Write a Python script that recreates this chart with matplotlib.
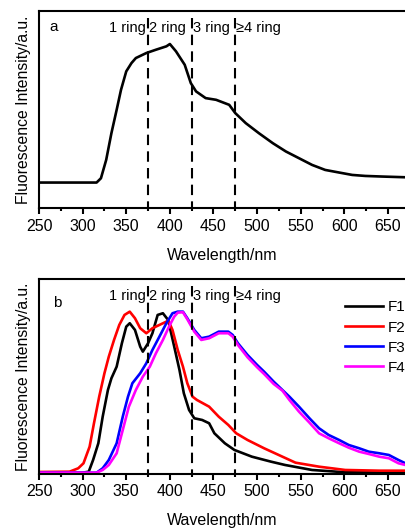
import matplotlib
matplotlib.use("Agg")
import matplotlib.pyplot as plt
import numpy as np

plt.rcParams['font.family'] = ['Liberation Sans', 'DejaVu Sans']

# Panel a: whole sample spectrum
wl_a = [250, 316, 321, 327, 333, 339, 344, 350, 356, 361, 373, 384, 396, 400,
        407, 417, 424, 430, 441, 453, 468, 475, 487, 502, 518, 533, 548, 563,
        578, 594, 609, 624, 643, 669]
int_a = [25.7, 25.7, 30, 48.3, 75, 98.3, 118.3, 136.7, 145, 150, 155, 158.3,
         161.7, 164, 156.7, 143.3, 125, 116.7, 110, 108.3, 103.3, 95, 85, 75,
         65, 56.7, 50, 43.3, 38.3, 35.7, 33.3, 32.3, 31.7, 31]

# Panel b: fractions F1-F4
wl_f1 = [250, 300, 307, 312, 318, 323, 329, 333, 339, 345, 350, 354, 360, 366,
         369, 375, 380, 386, 392, 398, 405, 411, 416, 422, 428, 437, 445, 451,
         463, 474, 494, 516, 532, 563, 601, 670]
f1 = [1.3, 1.3, 2.3, 14, 30.7, 57.3, 84, 95.7, 107.3, 130.7, 147.3, 150.7, 144,
      127.3, 122.3, 130.7, 140.7, 159, 160.7, 154, 127.3, 104, 80.7, 64, 55.7,
      54, 50.7, 40.7, 30.7, 24, 17.3, 12.3, 9, 4, 1.7, 1.3]

wl_f2 = [250, 285, 295, 301, 308, 313, 319, 325, 330, 336, 342, 348, 354, 360,
         366, 373, 380, 388, 396, 398, 403, 409, 415, 420, 426, 431, 445, 456,
         467, 476, 489, 508, 529, 544, 571, 601, 640, 670]
f2 = [2, 2.3, 5.7, 10.7, 27.3, 50.7, 77.3, 100.7, 117.3, 134, 149, 159, 162.3,
      155.7, 145.7, 140.7, 145.7, 149, 152.3, 154, 144, 124, 107.3, 90.7, 77.3,
      74, 67.3, 57.3, 49, 40.7, 34, 25.7, 17.3, 11.3, 7.3, 4, 3.3, 3.3]

wl_f3 = [250, 316, 323, 330, 339, 346, 352, 357, 366, 373, 380, 388, 396, 403,
         409, 415, 420, 428, 436, 445, 456, 467, 472, 478, 489, 500, 508, 519,
         525, 537, 548, 560, 571, 582, 594, 605, 617, 628, 640, 651, 662, 670]
f3 = [1.3, 1.3, 5.7, 14, 30.7, 57.3, 77.3, 90.7, 100.7, 110.7, 124, 137.3,
      150.7, 160.7, 162.3, 162.3, 155.7, 144, 135.7, 137.3, 142.3, 142.3, 139,
      130.7, 119, 109, 102.3, 92.3, 87.3, 77.3, 67.3, 55.7, 45.7, 39, 34, 29,
      25.7, 22.3, 20.7, 19, 14, 10.7]

wl_f4 = [250, 316, 323, 330, 339, 346, 353, 361, 369, 377, 384, 392, 399, 405,
         409, 415, 420, 428, 436, 445, 456, 467, 472, 478, 489, 500, 508, 519,
         529, 537, 548, 560, 571, 582, 594, 605, 617, 628, 640, 651, 662, 670]
f4 = [1.3, 1.3, 4, 9, 20.7, 44, 67.3, 84, 97.3, 107.3, 120.7, 134, 147.3,
      157.3, 161.3, 161.7, 154.7, 142.3, 134, 135.7, 140.7, 140.7, 137.3, 129,
      116.7, 106.7, 100, 90, 83.3, 74, 62.3, 51.3, 40.7, 35.7, 30.7, 26.3,
      22.3, 20, 17.3, 15.7, 10.7, 9]

ring_pos = [375, 425, 475]
ring_labels = ["1 ring", "2 ring", "3 ring", "\u22654 ring"]

fig = plt.figure(figsize=(4.05, 5.30), dpi=100)
ax_a = fig.add_axes([0.0963, 0.607, 0.9037, 0.3723])
ax_b = fig.add_axes([0.0963, 0.1057, 0.9037, 0.368])

ax_a.plot(wl_a, int_a, color="black", lw=1.9)
ax_a.set_ylim(0, 197)

ax_b.plot(wl_f1, f1, color="black", lw=1.9, label="F1")
ax_b.plot(wl_f2, f2, color="#ff0000", lw=1.9, label="F2")
ax_b.plot(wl_f3, f3, color="#0000ff", lw=1.9, label="F3")
ax_b.plot(wl_f4, f4, color="#ff00ff", lw=1.9, label="F4")
ax_b.set_ylim(0, 195)

for ax, tag, ty in [(ax_a, "a", 0.919), (ax_b, "b", 0.877)]:
    ax.set_xlim(250, 669.5)
    top = ax.get_ylim()[1]
    # ring boundaries
    for x in ring_pos:
        ax.plot([x, x], [top * 0.965, 0], color="black", lw=1.5,
                dashes=(5, 3), zorder=5)
    ry = 0.915 if tag == "a" else 0.91
    ax.text(372, ry, ring_labels[0], transform=ax.get_xaxis_transform(),
            ha="right", va="center", fontsize=10.5, zorder=6)
    for x, lab in zip(ring_pos, ring_labels[1:]):
        ax.text(x + 1.3, ry, lab, transform=ax.get_xaxis_transform(),
                ha="left", va="center", fontsize=10.5, zorder=6)
    ax.text(0.027 if tag == "a" else 0.038, ty, tag, transform=ax.transAxes,
            ha="left", va="center", fontsize=11)
    ax.set_xticks(np.arange(250, 651, 50))
    ax.set_xticks(np.arange(275, 670, 50), minor=True)
    ax.set_yticks([])
    ax.tick_params(axis="x", which="major", direction="out", length=4,
                   width=1.5, labelsize=11.5, pad=3.5)
    ax.tick_params(axis="x", which="minor", direction="out", length=2.5,
                   width=1.5)
    for s in ["left", "bottom", "top"]:
        ax.spines[s].set_linewidth(1.5)
    ax.spines["right"].set_visible(False)
    ax.set_xlabel("Wavelength/nm", fontsize=11.5, labelpad=10)
    ax.set_ylabel("Fluorescence Intensity/a.u.", fontsize=11.3, labelpad=6)

ax_b.legend(loc="upper left", bbox_to_anchor=(0.836, 0.89), frameon=False,
            fontsize=11, handlelength=2.5, handletextpad=0.3,
            labelspacing=0.4, borderpad=0, borderaxespad=0)

fig.savefig("out.png", dpi=100)
